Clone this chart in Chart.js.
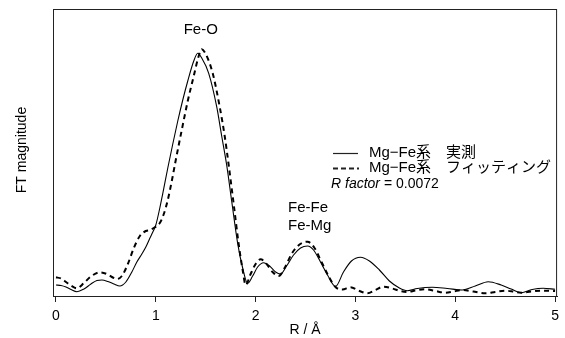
<!DOCTYPE html>
<html><head><meta charset="utf-8">
<script src="https://cdn.jsdelivr.net/npm/chart.js@4.4.1/dist/chart.umd.min.js"></script>
<style>html,body{margin:0;padding:0;background:#fff}canvas{display:block}</style>
</head><body><canvas id="c" width="565" height="338" style="width:565px;height:338px"></canvas>
<script>
const rMeasured = [0.00,0.05,0.10,0.15,0.21,0.28,0.35,0.41,0.46,0.52,0.58,0.64,0.70,0.76,0.81,0.86,0.90,0.94,0.97,1.00,1.04,1.07,1.12,1.17,1.22,1.27,1.32,1.38,1.42,1.46,1.53,1.61,1.66,1.71,1.76,1.82,1.87,1.92,1.97,2.02,2.08,2.14,2.20,2.25,2.31,2.38,2.45,2.52,2.58,2.65,2.72,2.80,2.88,2.96,3.05,3.14,3.24,3.34,3.44,3.52,3.62,3.77,3.92,4.07,4.20,4.33,4.46,4.56,4.66,4.77,4.88,5.00];
const measured = [11,10.5,9,6.5,4.3,7,12,15.5,16,14.5,12,10,14,24,34,42,49,57.7,64,71,88,102.7,128,152,175,196,215,235,242.7,238,222.7,189.3,160,131,95,52.7,28,12.7,20,29,33.3,30,24,22,30,41,48,50,46,34,21,9.5,24,35,38.7,35,26,15,8,5.3,7.5,8.7,7.5,6,10,14.3,11,7,3.3,6.5,7.7,6.7];
const rFit = [0.00,0.05,0.10,0.15,0.21,0.28,0.35,0.44,0.52,0.57,0.61,0.66,0.72,0.78,0.84,0.90,0.94,0.99,1.04,1.08,1.12,1.16,1.20,1.26,1.32,1.38,1.43,1.46,1.50,1.57,1.64,1.69,1.73,1.78,1.83,1.87,1.90,1.95,2.00,2.05,2.11,2.17,2.23,2.29,2.36,2.44,2.52,2.59,2.66,2.73,2.80,2.87,2.95,3.04,3.12,3.20,3.28,3.37,3.45,3.52,3.60,3.70,3.80,3.90,3.98,4.07,4.18,4.30,4.40,4.50,4.58,4.66,4.76,4.86,5.00];
const fit = [18.7,17.5,14,10.5,7.7,13,19.5,23.7,21.5,18.5,17,20,32,48,60,65,66,68.7,73,82,96,115,136,166,195,220,240,246.7,242,222.7,189.3,160,131,92,52,26,11,22,32,36.7,32,24,20,28,42,51.5,54.3,48,34,20,9,6.5,8.7,5,2.7,6,9.3,7.5,5,4,5.5,6.7,5,3.3,4.5,6,4.5,2.7,4,5.3,4.5,3.3,4.5,5.3,5];
const xTicks = [0,1,2,3,4,5];
const seriesNames = ['Mg\u2212Fe系\u3000実測','Mg\u2212Fe系\u3000フィッティング'];
const rFactorText = ['R factor',' = 0.0072'];
const peakLabels = [{text:'Fe-O', r:1.45, h:266, align:'center'},{text:'Fe-Fe', r:2.31, h:88, align:'left'},{text:'Fe-Mg', r:2.31, h:70, align:'left'}];
const xTitle = 'R / Å';
const yTitle = 'FT magnitude';

const FONT = '"Liberation Sans", Arial, "Noto Sans CJK JP", sans-serif';
const pts = (xs, ys) => xs.map((x,i)=>({x, y: ys[i]}));

const overlay = {
  id:'overlay',
  afterDraw(chart){
    const {ctx, chartArea:a, scales:{x, y}} = chart;
    ctx.save();
    ctx.strokeStyle = '#222'; ctx.lineWidth = 1;
    ctx.strokeRect(a.left+0.5, a.top+0.5, a.right-a.left-1, a.bottom-a.top);
    ctx.fillStyle = '#000';
    ctx.textBaseline = 'middle';
    ctx.font = '15px ' + FONT;
    peakLabels.forEach(p=>{
      ctx.textAlign = p.align;
      const px = p.align==='left' ? 288 : x.getPixelForValue(p.r);
      ctx.fillText(p.text, px, y.getPixelForValue(p.h));
    });
    ctx.textAlign = 'left';
    ctx.lineWidth = 1.2;
    ctx.beginPath(); ctx.moveTo(333,153.5); ctx.lineTo(358,153.5); ctx.stroke();
    ctx.fillText(seriesNames[0], 369, 153);
    ctx.lineWidth = 2; ctx.setLineDash([5,3]);
    ctx.beginPath(); ctx.moveTo(333,168.5); ctx.lineTo(359,168.5); ctx.stroke();
    ctx.setLineDash([]);
    ctx.fillText(seriesNames[1], 369, 168);
    ctx.font = 'italic 14px ' + FONT;
    ctx.fillText(rFactorText[0], 331, 184);
    const w = ctx.measureText(rFactorText[0]).width;
    ctx.font = '14px ' + FONT;
    ctx.fillText(rFactorText[1], 331+w, 184);
    ctx.textAlign = 'center';
    ctx.fillText(xTitle, (a.left+a.right)/2, 330);
    ctx.translate(22, 150); ctx.rotate(-Math.PI/2);
    ctx.fillText(yTitle, 0, 0);
    ctx.restore();
  }
};

new Chart(document.getElementById('c'), {
  type:'line',
  data:{datasets:[
    {data: pts(rMeasured, measured), borderColor:'#000', borderWidth:1.1, pointRadius:0, cubicInterpolationMode:'monotone', fill:false},
    {data: pts(rFit, fit), borderColor:'#000', borderWidth:2, borderDash:[5,4], pointRadius:0, cubicInterpolationMode:'monotone', fill:false}
  ]},
  options:{
    responsive:false, animation:false, devicePixelRatio:1,
    layout:{padding:{left:53, right:6, top:9, bottom:0}},
    plugins:{legend:{display:false}, tooltip:{enabled:false}},
    scales:{
      x:{type:'linear', min:-0.03, max:5.02,
        afterBuildTicks: s => { s.ticks = xTicks.map(v=>({value:v})); },
        afterFit: s => { s.height = 42; },
        grid:{drawOnChartArea:false, drawTicks:true, tickLength:6, color:'#222'},
        border:{display:true, color:'#222'},
        ticks:{padding:6, color:'#000', font:{family:FONT, size:14}, maxRotation:0}
      },
      y:{display:false, min:0, max:287}
    }
  },
  plugins:[overlay]
});
</script>
</body></html>
